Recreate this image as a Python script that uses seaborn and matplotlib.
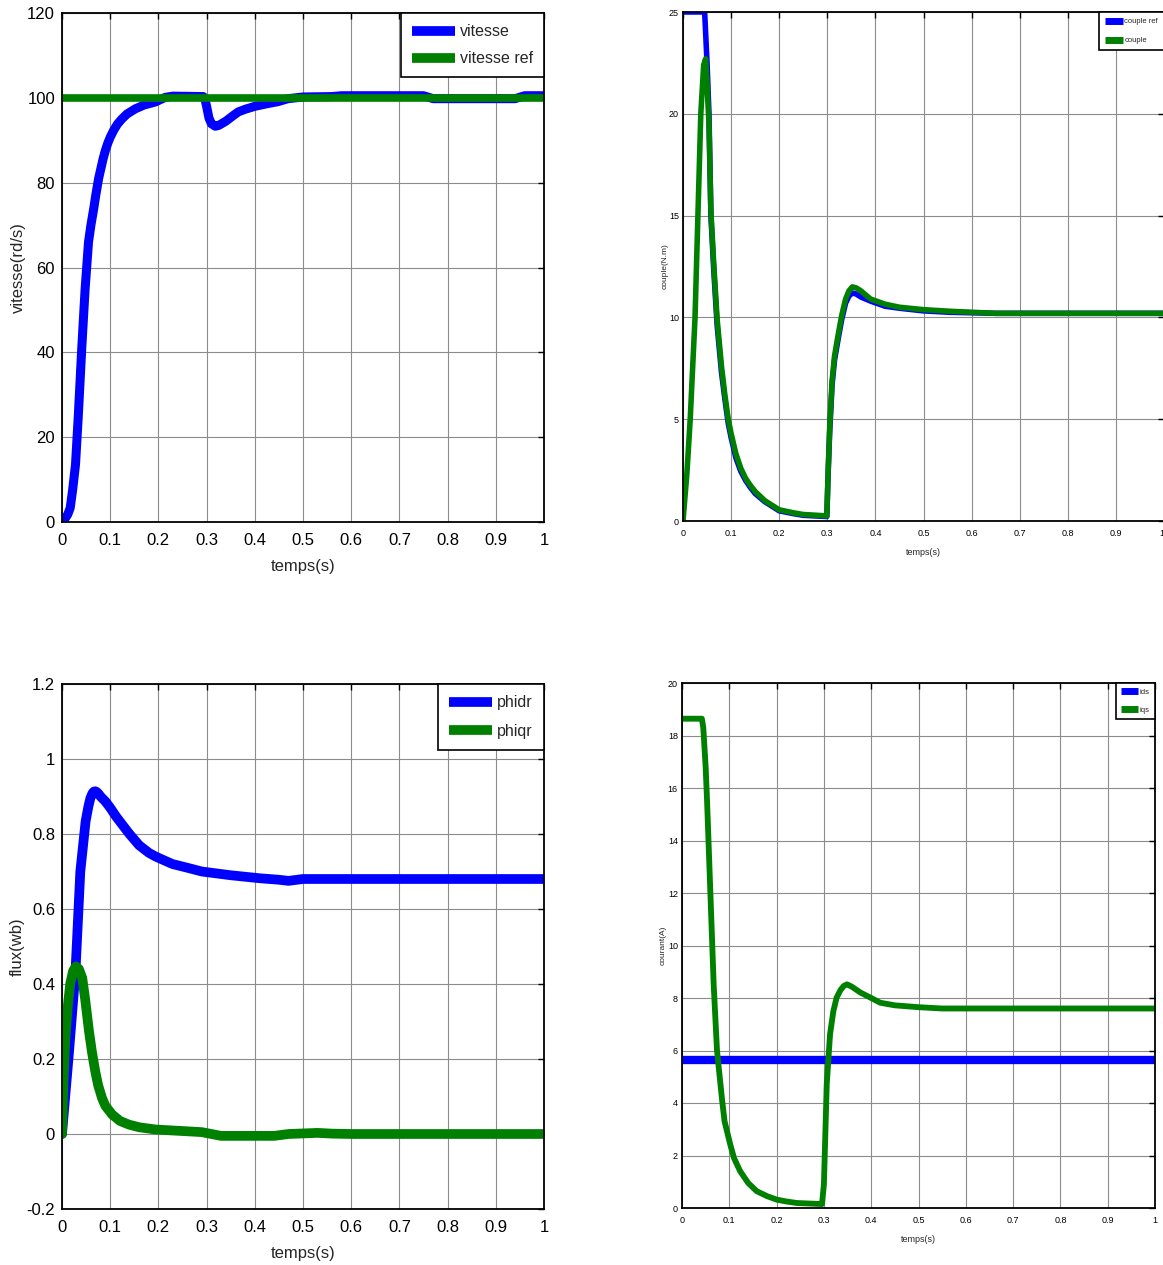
import numpy as np
import pandas as pd
import matplotlib
matplotlib.use("Agg")
import matplotlib.pyplot as plt
import seaborn as sns

# ---------------- data ----------------
# vitesse (rd/s)
t_vit = [0, 0.007, 0.012, 0.017, 0.022, 0.028, 0.034, 0.041, 0.048, 0.055, 0.06,
         0.066, 0.07, 0.076, 0.08, 0.085, 0.09, 0.095, 0.1, 0.107, 0.115, 0.124,
         0.135, 0.152, 0.17, 0.193, 0.214, 0.23, 0.293, 0.297, 0.3, 0.305, 0.31,
         0.318, 0.325, 0.331, 0.34, 0.355, 0.366, 0.38, 0.4, 0.425, 0.448, 0.469,
         0.5, 0.56, 0.58, 0.75, 0.77, 0.94, 0.96, 1.0]
vitesse = [0, 0.9, 1.8, 3.3, 7.5, 13.5, 25.4, 41, 55, 66, 70,
           74, 77, 81, 83, 85.5, 87.6, 89.3, 90.7, 92.3, 93.8, 95,
           96.2, 97.4, 98.3, 99, 100.1, 100.4, 100.3, 99.5, 98, 95.2, 93.9,
           93.3, 93.5, 93.9, 94.5, 95.8, 96.7, 97.3, 98.0, 98.6, 99.1, 99.8,
           100.2, 100.3, 100.5, 100.5, 99.8, 99.8, 100.5, 100.5]
t_vref = [0, 1.0]
vitesse_ref = [100, 100]

# couple (N.m)
t_cref = [0, 0.045, 0.05, 0.054, 0.058, 0.064, 0.071, 0.08, 0.087, 0.094, 0.1,
          0.11, 0.12, 0.13, 0.14, 0.15, 0.17, 0.2, 0.23, 0.25, 0.299, 0.302,
          0.305, 0.31, 0.315, 0.323, 0.33, 0.338, 0.345, 0.352, 0.36, 0.37,
          0.39, 0.42, 0.45, 0.5, 0.556, 0.65, 1.0]
couple_ref = [25, 25, 22.5, 20, 15, 12.3, 9.6, 7.3, 6.0, 4.8, 4.1,
              3.1, 2.45, 2.0, 1.65, 1.35, 0.95, 0.5, 0.36, 0.28, 0.22, 2.5,
              4.4, 6.7, 7.9, 9.0, 9.9, 10.7, 11.05, 11.2, 11.15, 11.0,
              10.8, 10.55, 10.45, 10.32, 10.25, 10.2, 10.2]
t_couple = [0, 0.008, 0.015, 0.025, 0.031, 0.037, 0.043, 0.047, 0.05, 0.054, 0.058,
            0.064, 0.071, 0.08, 0.087, 0.094, 0.1, 0.11, 0.12, 0.13, 0.14, 0.15,
            0.17, 0.2, 0.23, 0.25, 0.299, 0.302, 0.305, 0.31, 0.315, 0.323, 0.33,
            0.338, 0.345, 0.352, 0.36, 0.37, 0.39, 0.42, 0.45, 0.5, 0.556, 0.65, 1.0]
couple = [0, 2.3, 5, 10, 15, 20, 22.4, 22.7, 21.5, 19.5, 15.2,
          12.6, 9.9, 7.6, 6.2, 5.0, 4.3, 3.3, 2.6, 2.1, 1.75, 1.45,
          1.0, 0.55, 0.4, 0.32, 0.25, 2.6, 4.6, 6.9, 8.1, 9.2, 10.1,
          10.9, 11.3, 11.5, 11.45, 11.3, 10.9, 10.65, 10.5, 10.38, 10.3, 10.2, 10.2]

# flux (wb)
t_phidr = [0, 0.014, 0.028, 0.038, 0.049, 0.055, 0.059, 0.063, 0.066, 0.069, 0.072,
           0.076, 0.08, 0.09, 0.1, 0.112, 0.125, 0.14, 0.16, 0.18, 0.194, 0.229,
           0.26, 0.29, 0.35, 0.41, 0.45, 0.47, 0.5, 1.0]
phidr = [0, 0.21, 0.434, 0.70, 0.834, 0.875, 0.896, 0.908, 0.913, 0.914, 0.912,
         0.907, 0.9, 0.887, 0.87, 0.847, 0.825, 0.8, 0.77, 0.75, 0.74, 0.72,
         0.71, 0.70, 0.69, 0.682, 0.678, 0.675, 0.68, 0.68]
t_phiqr = [0, 0.003, 0.007, 0.012, 0.017, 0.023, 0.029, 0.035, 0.042, 0.048, 0.056,
           0.062, 0.069, 0.075, 0.083, 0.09, 0.104, 0.12, 0.139, 0.16,
           0.194, 0.29, 0.33, 0.44, 0.47, 0.53, 0.56, 0.6, 1.0]
phiqr = [0, 0.14, 0.256, 0.34, 0.40, 0.435, 0.447, 0.44, 0.416, 0.36, 0.274,
         0.22, 0.167, 0.13, 0.096, 0.075, 0.052, 0.035, 0.025, 0.018,
         0.012, 0.005, -0.005, -0.005, 0.0, 0.003, 0.001, 0.0, 0.0]

# courant (A)
t_ids = [0, 1.0]
ids = [5.64, 5.64]
t_iqs = [0, 0.042, 0.045, 0.05, 0.053, 0.06, 0.067, 0.074, 0.085, 0.09, 0.102,
         0.11, 0.123, 0.14, 0.158, 0.18, 0.2, 0.22, 0.243, 0.296, 0.3, 0.303,
         0.306, 0.313, 0.32, 0.327, 0.335, 0.342, 0.349, 0.36, 0.377, 0.4,
         0.419, 0.45, 0.5, 0.55, 1.0]
iqs = [18.64, 18.64, 18.3, 16.8, 15.5, 12.0, 8.5, 6.0, 4.07, 3.3, 2.42,
       1.9, 1.40, 0.95, 0.64, 0.45, 0.32, 0.25, 0.19, 0.15, 0.89, 2.8,
       4.71, 6.62, 7.5, 8.02, 8.3, 8.46, 8.52, 8.42, 8.21, 8.0,
       7.82, 7.72, 7.65, 7.6, 7.6]

xticks = [0, 0.1, 0.2, 0.3, 0.4, 0.5, 0.6, 0.7, 0.8, 0.9, 1]
xticklabels = ["0", "0.1", "0.2", "0.3", "0.4", "0.5", "0.6", "0.7", "0.8", "0.9", "1"]

BLUE = "#0000ff"
GREEN = "#008000"

sns.set_style("white")
plt.rcParams["font.family"] = ["Liberation Sans", "DejaVu Sans"]

W, H = 1163, 1265
fig = plt.figure(figsize=(W / 100, H / 100), dpi=100)


def pos(l, t, r, b):
    return [l / W, 1 - b / H, (r - l) / W, (b - t) / H]


ax_tl = fig.add_axes(pos(62, 13, 544, 522))
ax_tr = fig.add_axes(pos(683, 12, 1164, 521))
ax_bl = fig.add_axes(pos(62, 684, 544, 1209))
ax_br = fig.add_axes(pos(682, 683, 1155, 1208))

NARROW = ["Liberation Sans Narrow", "Liberation Sans", "DejaVu Sans"]


def style(ax, yticks, ylim, xlabel, ylabel, big=True):
    ax.set_xlim(0, 1)
    ax.set_ylim(*ylim)
    ax.set_xticks(xticks)
    ax.set_yticks(yticks)
    ax.grid(True, color="0.55", lw=0.8)
    ax.set_axisbelow(True)
    for s in ax.spines.values():
        s.set_color("black")
        s.set_linewidth(1.3)
        s.set_visible(True)
    ax.tick_params(direction="in", top=True, right=True, length=4, width=1,
                   colors="black")
    if big:
        ax.set_xticklabels(xticklabels, fontsize=12)
        ax.set_yticklabels([("%g" % v) for v in yticks], fontsize=12)
        ax.tick_params(axis="x", pad=8)
        ax.tick_params(axis="y", pad=5)
        ax.set_xlabel(xlabel, fontsize=12, labelpad=8)
        ax.set_ylabel(ylabel, fontsize=12, labelpad=1)
    else:
        ax.set_xticklabels(xticklabels, fontsize=6.5, family=NARROW)
        ax.set_yticklabels([("%g" % v) for v in yticks], fontsize=6.5, family=NARROW)
        ax.tick_params(axis="x", pad=6)
        ax.tick_params(axis="y", pad=3)
        ax.set_xlabel(xlabel, fontsize=6.5, family=NARROW, labelpad=7)
        ax.set_ylabel(ylabel, fontsize=6)


def legend(ax, big=True, hl=2.7, ls=0.8, bp=0.6):
    if big:
        lg = ax.legend(loc="upper right", borderaxespad=0, fancybox=False,
                       framealpha=1, edgecolor="black", fontsize=11.5,
                       handlelength=hl, handletextpad=0.3, labelspacing=ls,
                       borderpad=bp)
    else:
        lg = ax.legend(loc="upper right", borderaxespad=0, fancybox=False,
                       framealpha=1, edgecolor="black",
                       prop={"family": NARROW, "size": 5.5},
                       handlelength=hl, handletextpad=0.2, labelspacing=ls,
                       borderpad=bp)
    lg.get_frame().set_linewidth(1.2)
    for h in lg.legend_handles:
        h.set_linewidth(7 if big else 5)
        h.set_solid_capstyle("butt")
    return lg


# ---- top-left: vitesse
sns.lineplot(x=t_vit, y=vitesse, ax=ax_tl, color=BLUE, lw=6.5, label="vitesse",
             estimator=None, sort=False)
sns.lineplot(x=t_vref, y=vitesse_ref, ax=ax_tl, color=GREEN, lw=5.5,
             label="vitesse ref", estimator=None, sort=False)
style(ax_tl, list(range(0, 121, 20)), (0, 120), "temps(s)", "vitesse(rd/s)")
legend(ax_tl, hl=2.7, ls=0.75, bp=0.7)

# ---- top-right: couple
sns.lineplot(x=t_cref, y=couple_ref, ax=ax_tr, color=BLUE, lw=4.0,
             label="couple ref", estimator=None, sort=False)
sns.lineplot(x=t_couple, y=couple, ax=ax_tr, color=GREEN, lw=4.0, label="couple",
             estimator=None, sort=False)
style(ax_tr, [0, 5, 10, 15, 20, 25], (0, 25), "temps(s)", "couple(N.m)", big=False)
ax_tr.yaxis.set_label_coords(-0.029, 0.5)
ax_tr.get_xticklabels()[-1].set_horizontalalignment("right")
legend(ax_tr, big=False, hl=2.3, ls=1.5, bp=0.8)

# ---- bottom-left: flux
sns.lineplot(x=t_phidr, y=phidr, ax=ax_bl, color=BLUE, lw=7, label="phidr",
             estimator=None, sort=False)
sns.lineplot(x=t_phiqr, y=phiqr, ax=ax_bl, color=GREEN, lw=7, label="phiqr",
             estimator=None, sort=False)
style(ax_bl, [-0.2, 0, 0.2, 0.4, 0.6, 0.8, 1, 1.2], (-0.2, 1.2), "temps(s)", "flux(wb)")
legend(ax_bl, hl=2.7, ls=0.85, bp=0.7)

# ---- bottom-right: courant
sns.lineplot(x=t_ids, y=ids, ax=ax_br, color=BLUE, lw=6, label="ids",
             estimator=None, sort=False)
sns.lineplot(x=t_iqs, y=iqs, ax=ax_br, color=GREEN, lw=4.2, label="iqs",
             estimator=None, sort=False)
style(ax_br, list(range(0, 21, 2)), (0, 20), "temps(s)", "courant(A)", big=False)
ax_br.yaxis.set_label_coords(-0.032, 0.5)
legend(ax_br, big=False, hl=2.2, ls=1.4, bp=0.7)

fig.savefig("out.png", dpi=100)
